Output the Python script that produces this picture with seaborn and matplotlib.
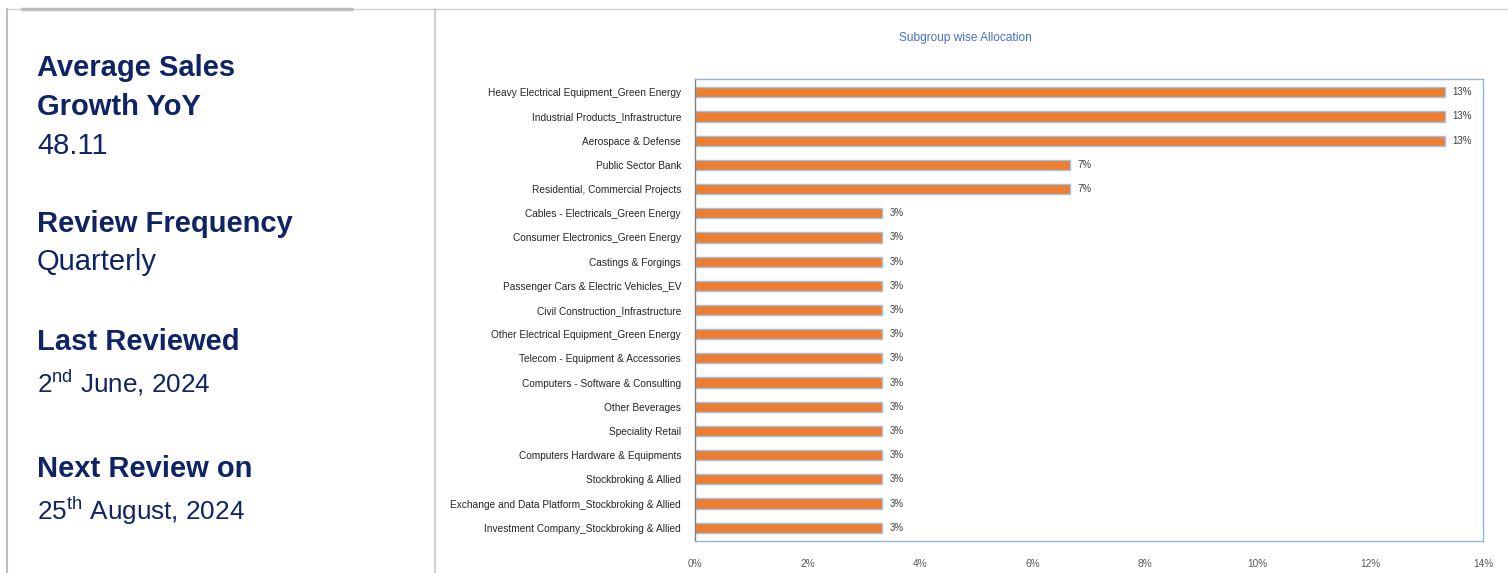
import matplotlib
matplotlib.use("Agg")
import matplotlib.pyplot as plt
import seaborn as sns
import pandas as pd
from matplotlib.lines import Line2D
from matplotlib.ticker import FuncFormatter

# data
subgroups = [
    "Heavy Electrical Equipment_Green Energy",
    "Industrial Products_Infrastructure",
    "Aerospace & Defense",
    "Public Sector Bank",
    "Residential, Commercial Projects",
    "Cables - Electricals_Green Energy",
    "Consumer Electronics_Green Energy",
    "Castings & Forgings",
    "Passenger Cars & Electric Vehicles_EV",
    "Civil Construction_Infrastructure",
    "Other Electrical Equipment_Green Energy",
    "Telecom - Equipment & Accessories",
    "Computers - Software & Consulting",
    "Other Beverages",
    "Speciality Retail",
    "Computers Hardware & Equipments",
    "Stockbroking & Allied",
    "Exchange and Data Platform_Stockbroking & Allied",
    "Investment Company_Stockbroking & Allied",
]
allocation = [13.33, 13.33, 13.33, 6.67, 6.67,
              3.33, 3.33, 3.33, 3.33, 3.33, 3.33, 3.33, 3.33, 3.33, 3.33, 3.33, 3.33, 3.33, 3.33]
x_ticks = [0, 2, 4, 6, 8, 10, 12, 14]

info_heads = ["Review Frequency", "Last Reviewed", "Next Review on"]
info_values = ["Quarterly", r"2$^{\mathrm{nd}}$ June, 2024", r"25$^{\mathrm{th}}$ August, 2024"]

sns.set_style("white")
plt.rcParams["font.family"] = ["Liberation Sans", "DejaVu Sans"]
plt.rcParams["mathtext.fontset"] = "custom"
plt.rcParams["mathtext.rm"] = "Liberation Sans"

W, H = 1508, 573
fig = plt.figure(figsize=(W / 100, H / 100), dpi=100)

navy = "#0F2464"
label_font = ["Liberation Sans Narrow", "Liberation Sans", "DejaVu Sans"]

# left panel text (baselines in pixels from top)
fig.text(37 / W, 1 - 76 / H, "Average Sales", fontsize=21, fontweight="bold", color=navy, va="baseline")
fig.text(37 / W, 1 - 115 / H, "Growth YoY", fontsize=21, fontweight="bold", color=navy, va="baseline")
fig.text(37 / W, 1 - 154 / H, "48.11", fontsize=21, color=navy, va="baseline")
head_y = [232, 350, 477]
val_y = [270, 393, 520]
for hy, vy, head, val in zip(head_y, val_y, info_heads, info_values):
    fig.text(37 / W, 1 - hy / H, head, fontsize=21, fontweight="bold", color=navy, va="baseline")
    fs = 21 if val == "Quarterly" else 18.8
    fig.text(37 / W, 1 - vy / H, val, fontsize=fs, color=navy, va="baseline")

# border lines
fig.add_artist(Line2D([7 / W, 1], [1 - 9 / H] * 2, color="#D0D0D0", lw=1))
fig.add_artist(Line2D([22 / W, 352 / W], [1 - 9 / H] * 2, color="#BDBDBD", lw=2.5))
fig.add_artist(Line2D([7 / W] * 2, [0, 1 - 9 / H], color="#BDBDBD", lw=1.5))
fig.add_artist(Line2D([435 / W] * 2, [0, 1 - 9 / H], color="#D0D0D0", lw=1.5))

# chart
ax = fig.add_axes([695 / W, 1 - 541 / H, (1483 - 695) / W, (541 - 79) / H])
df = pd.DataFrame({"Subgroup": subgroups, "Allocation": allocation})
sns.barplot(data=df, x="Allocation", y="Subgroup", ax=ax, color="#ED7D31",
            width=0.42, edgecolor="#9DC3E6", linewidth=1, saturation=1)

ax.set_xlim(0, 14)
ax.set_ylim(len(subgroups) - 0.45, -0.55)
ax.set_xticks(x_ticks)
ax.xaxis.set_major_formatter(FuncFormatter(lambda v, p: f"{v:.0f}%"))
ax.set_xlabel("")
ax.set_ylabel("")
ax.tick_params(axis="x", length=0, pad=13, labelsize=7.3, colors="#595959")
ax.tick_params(axis="y", length=0, pad=10, labelsize=7.3, colors="#262626")
for lab in ax.get_xticklabels() + ax.get_yticklabels():
    lab.set_family(label_font)

for side in ["top", "right", "bottom"]:
    ax.spines[side].set_color("#8EB4E3")
    ax.spines[side].set_linewidth(1)
ax.spines["left"].set_color("#7F7F7F")
ax.spines["left"].set_linewidth(1)

for i, v in enumerate(allocation):
    ax.text(v + 0.13, i, f"{v:.0f}%", va="center", ha="left", fontsize=7,
            color="#404040", family=label_font)

fig.text(965 / W, 1 - 38 / H, "Subgroup wise Allocation", ha="center", va="center",
         fontsize=8.6, color="#4472C4", family=label_font)

fig.savefig("out.png", dpi=100)
